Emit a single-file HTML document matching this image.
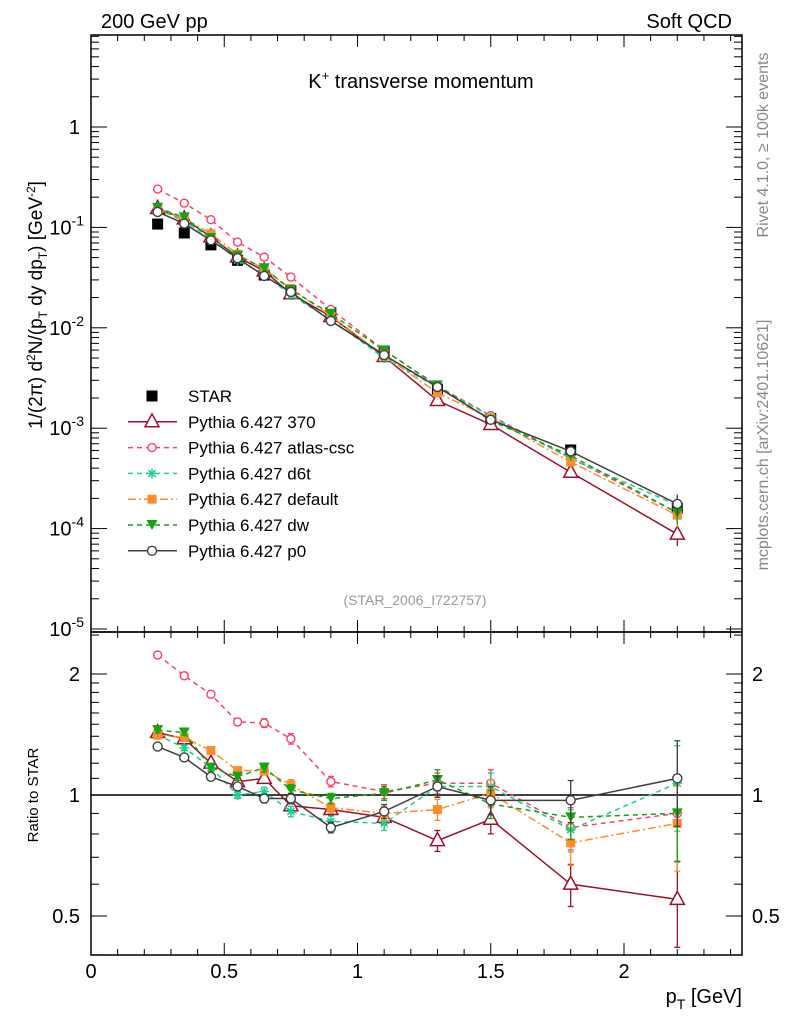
<!DOCTYPE html>
<html><head><meta charset="utf-8"><style>
body{margin:0;background:#fff;}
svg{display:block;font-family:"Liberation Sans",sans-serif;}
</style></head><body>
<svg id="chart" width="786" height="1024" viewBox="0 0 786 1024" xmlns="http://www.w3.org/2000/svg">
<rect x="0" y="0" width="786" height="1024" fill="#fff"/>
<text x="101" y="28" font-size="20">200 GeV pp</text>
<text x="732" y="28" font-size="20" text-anchor="end">Soft QCD</text>
<text x="421" y="88" font-size="20" text-anchor="middle">K<tspan dy="-8" font-size="13">+</tspan><tspan dy="8"> transverse momentum</tspan></text>
<text transform="translate(42,305) rotate(-90)" font-size="19" text-anchor="middle">1/(2π)  d<tspan dy="-7" font-size="12">2</tspan><tspan dy="7">N/(p</tspan><tspan dy="5" font-size="12">T</tspan><tspan dy="-5"> dy dp</tspan><tspan dy="5" font-size="12">T</tspan><tspan dy="-5">) [GeV</tspan><tspan dy="-7" font-size="12">-2</tspan><tspan dy="7">]</tspan></text>
<text transform="translate(38,795) rotate(-90)" font-size="15" text-anchor="middle">Ratio to STAR</text>
<text x="742" y="1003" font-size="20" text-anchor="end">p<tspan dy="6" font-size="14">T</tspan><tspan dy="-6"> [GeV]</tspan></text>
<text transform="translate(768,145) rotate(-90)" font-size="16" fill="#888" text-anchor="middle">Rivet 4.1.0, ≥ 100k events</text>
<text transform="translate(768,445) rotate(-90)" font-size="16" fill="#888" text-anchor="middle">mcplots.cern.ch [arXiv:2401.10621]</text>
<text x="415" y="605" font-size="14" fill="#999" text-anchor="middle">(STAR_2006_I722757)</text>
<g id="axes"></g><g id="marks"></g><g id="legend"></g>
</svg>
<script>
const xVals=[0.25,0.35,0.45,0.55,0.65,0.75,0.9,1.1,1.3,1.5,1.8,2.2];
const starVals=[0.108,0.088,0.067,0.047,0.0335,0.0232,0.0141,0.00588,0.00245,0.00125,0.000607,0.00016];
const starErr=[0.02,0.02,0.02,0.02,0.02,0.02,0.02,0.02,0.03,0.03,0.03,0.05];
const ratio370=[1.43,1.38,1.20,1.08,1.10,0.94,0.92,0.88,0.77,0.87,0.60,0.55];
const ratioAtlas=[2.23,1.98,1.78,1.52,1.51,1.38,1.08,1.02,1.07,1.07,0.83,0.90];
const ratioD6t=[1.41,1.31,1.17,1.0,1.02,0.91,0.86,0.85,1.05,1.05,0.82,1.07];
const ratioDefault=[1.41,1.39,1.29,1.15,1.15,1.06,0.93,0.90,0.92,1.01,0.76,0.85];
const ratioDw=[1.45,1.43,1.17,1.11,1.17,1.03,0.98,1.01,1.09,0.95,0.88,0.90];
const ratioP0=[1.32,1.24,1.11,1.05,0.98,0.98,0.83,0.91,1.05,0.97,0.97,1.10];
const relErr=[0.015,0.015,0.02,0.02,0.025,0.03,0.03,0.04,0.06,0.08,0.12,0.24];
const xTicks=[0,0.5,1,1.5,2];
const ratioTicks=[0.5,1,2];

const NS="http://www.w3.org/2000/svg";
const L=91,R=742,T=35,M=632,B=955;
const X=v=>L+v*266.5;
const Y=v=>127-Math.log10(v)*100.4;
const YR=v=>795-Math.log2(v)*121;
function mk(par,tag,at){const e=document.createElementNS(NS,tag);for(const k in at)e.setAttribute(k,at[k]);par.appendChild(e);return e;}
const ax=document.getElementById('axes'),mg=document.getElementById('marks'),lg=document.getElementById('legend');
let f1=mk(ax,'rect',{x:L,y:T,width:R-L,height:M-T,fill:'none',stroke:'#000','stroke-width':1.5});

let f2=mk(ax,'rect',{x:L,y:M,width:R-L,height:B-M,fill:'none',stroke:'#000','stroke-width':1.5});

let ul=mk(ax,'line',{x1:L,x2:R,y1:YR(1),y2:YR(1),stroke:'#000','stroke-width':1.5});

for(let i=0;i<=24;i++){const v=i/10,x=X(v),maj=i%5==0,len=maj?12:6;
 [[T,1],[M,-1],[M,1],[B,-1]].forEach(([y,d])=>mk(ax,'line',{x1:x,x2:x,y1:y,y2:y+d*len,stroke:'#000'}));}
xTicks.forEach(v=>{const t=mk(ax,'text',{x:X(v),y:978,'font-size':20,'text-anchor':'middle'});t.textContent=String(v);
 });
for(let e=-5;e<=0;e++){for(let k=1;k<=9;k++){const v=k*Math.pow(10,e),y=Y(v);if(y<T||y>M)continue;const len=k==1?16:8;
 mk(ax,'line',{x1:L,x2:L+len,y1:y,y2:y,stroke:'#000'});mk(ax,'line',{x1:R,x2:R-len,y1:y,y2:y,stroke:'#000'});}
 const t=mk(ax,'text',{x:e==0?80:84,y:Y(Math.pow(10,e))+7,'font-size':20,'text-anchor':'end'});
 
 if(e==0)t.textContent='1';else{t.innerHTML='10<tspan dy="-9" font-size="14">'+e+'</tspan>';}}
for(const v of [0.4,0.5,0.6,0.7,0.8,0.9,1,1.1,1.2,1.3,1.4,1.5,1.6,1.7,1.8,1.9,2,2.5]){const y=YR(v);if(y<M||y>B)continue;const len=ratioTicks.includes(v)?16:8;
 mk(ax,'line',{x1:L,x2:L+len,y1:y,y2:y,stroke:'#000'});mk(ax,'line',{x1:R,x2:R-len,y1:y,y2:y,stroke:'#000'});}
ratioTicks.forEach(v=>{[[80,'end'],[752,'start']].forEach(([x,a])=>{const t=mk(ax,'text',{x:x,y:YR(v)+7,'font-size':20,'text-anchor':a});t.textContent=String(v);
 });});

function marker(g,type,x,y,c){
 if(type=='sq')mk(g,'rect',{x:x-5.5,y:y-5.5,width:11,height:11,fill:c});
 else if(type=='sqs')mk(g,'rect',{x:x-4.5,y:y-4.5,width:9,height:9,fill:c});
 else if(type=='tri')mk(g,'path',{d:`M${x} ${y-8}L${x+7} ${y+5}L${x-7} ${y+5}Z`,fill:'#fff',stroke:c,'stroke-width':1.5});
 else if(type=='oc')mk(g,'circle',{cx:x,cy:y,r:4,fill:'#fff',stroke:c,'stroke-width':1.4});
 else if(type=='oc2')mk(g,'circle',{cx:x,cy:y,r:4.5,fill:'#fff',stroke:c,'stroke-width':1.4});
 else if(type=='star'){for(let a=0;a<4;a++){const an=a*Math.PI/4;mk(g,'line',{x1:x-5*Math.cos(an),y1:y-5*Math.sin(an),x2:x+5*Math.cos(an),y2:y+5*Math.sin(an),stroke:c,'stroke-width':1.5});}}
 else if(type=='dtri')mk(g,'path',{d:`M${x-5.5} ${y-5}L${x+5.5} ${y-5}L${x} ${y+5}Z`,fill:c});
}
const series=[
 {name:'370',ratio:ratio370,c:'#a0102a',dash:'',m:'tri',lab:'Pythia 6.427 370'},
 {name:'atlas-csc',ratio:ratioAtlas,c:'#ff3f6a',dash:'5,4',m:'oc',lab:'Pythia 6.427 atlas-csc'},
 {name:'d6t',ratio:ratioD6t,c:'#1ccf8c',dash:'5,4',m:'star',lab:'Pythia 6.427 d6t'},
 {name:'default',ratio:ratioDefault,c:'#ff8c2a',dash:'8,3,2,3',m:'sqs',lab:'Pythia 6.427 default'},
 {name:'dw',ratio:ratioDw,c:'#12a612',dash:'5,4',m:'dtri',lab:'Pythia 6.427 dw'},
 {name:'p0',ratio:ratioP0,c:'#404040',dash:'',m:'oc2',lab:'Pythia 6.427 p0'}];
const sg=mk(mg,'g',{});
xVals.forEach((x,i)=>{const v=starVals[i];mk(sg,'line',{x1:X(x),x2:X(x),y1:Y(v*(1+starErr[i])),y2:Y(v*(1-starErr[i])),stroke:'#000'});marker(sg,'sq',X(x),Y(v),'#000');});
series.forEach(s=>{
 const g=mk(mg,'g',{});
 const vals=s.ratio.map((r,i)=>r*starVals[i]);
 mk(g,'polyline',{points:xVals.map((x,i)=>X(x)+','+Y(vals[i])).join(' '),fill:'none',stroke:s.c,'stroke-width':1.5,'stroke-dasharray':s.dash});
 mk(g,'polyline',{points:xVals.map((x,i)=>X(x)+','+YR(s.ratio[i])).join(' '),fill:'none',stroke:s.c,'stroke-width':1.5,'stroke-dasharray':s.dash});
 xVals.forEach((x,i)=>{const r=s.ratio[i],e=relErr[i];
  mk(g,'line',{x1:X(x),x2:X(x),y1:YR(r*(1+e)),y2:YR(r*(1-e)),stroke:s.c,'stroke-width':1.3});
  mk(g,'line',{x1:X(x)-3,x2:X(x)+3,y1:YR(r*(1+e)),y2:YR(r*(1+e)),stroke:s.c,'stroke-width':1.3});
  mk(g,'line',{x1:X(x)-3,x2:X(x)+3,y1:YR(r*(1-e)),y2:YR(r*(1-e)),stroke:s.c,'stroke-width':1.3});
  mk(g,'line',{x1:X(x),x2:X(x),y1:Y(vals[i]*(1+e)),y2:Y(vals[i]*(1-e)),stroke:s.c,'stroke-width':1.3});
  marker(g,s.m,X(x),Y(vals[i]),s.c);marker(g,s.m,X(x),YR(r),s.c);});
});
const rows=[{lab:'STAR',m:'sq',c:'#000',dash:null}].concat(series.map(s=>({lab:s.lab,m:s.m,c:s.c,dash:s.dash})));
rows.forEach((r,i)=>{const y=396+i*25.8;const g=mk(lg,'g',{});
 
 if(r.dash!==null)mk(g,'line',{x1:128,x2:177,y1:y,y2:y,stroke:r.c,'stroke-width':1.5,'stroke-dasharray':r.dash});
 marker(g,r.m,152,y,r.c);
 const t=mk(g,'text',{x:188,y:y+6,'font-size':17});t.textContent=r.lab;});
</script>
</body></html>
